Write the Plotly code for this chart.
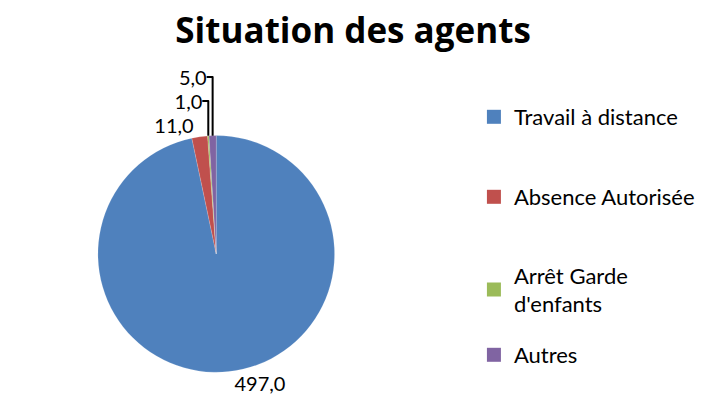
import plotly.graph_objects as go

categories = ["Travail à distance", "Absence Autorisée", "Arrêt Garde d'enfants", "Autres"]
legend_labels = ["Travail à distance", "Absence Autorisée", "Arrêt Garde<br>d'enfants", "Autres"]
values = [497.0, 11.0, 1.0, 5.0]
colors = ["#4F81BD", "#C0504D", "#9BBB59", "#8064A2"]

FONT = "Lato, 'Open Sans', sans-serif"
TITLE_FONT = "'Open Sans', Lato, sans-serif"
H = 403
legend_centers_px = [109, 189, 282, 347]

fig = go.Figure()
fig.add_trace(go.Pie(
    labels=categories,
    values=values,
    sort=False,
    direction="clockwise",
    rotation=0,
    marker=dict(colors=colors, line=dict(color="rgba(255,255,255,0.3)", width=0.5)),
    texttemplate="%{value:.1f}",
    textposition="outside",
    textfont=dict(family=FONT, size=20, color="#000000"),
    showlegend=False,
    domain=dict(x=[0.0, 0.56], y=[0.1, 0.8]),
    hoverinfo="label+value",
))

legend_layout = {}
for i, (lab, col) in enumerate(zip(legend_labels, colors)):
    lname = "legend" if i == 0 else f"legend{i + 1}"
    fig.add_trace(go.Scatter(
        x=[None], y=[None], mode="markers", name=lab,
        legend=lname,
        marker=dict(symbol="square", size=14, color=col),
    ))
    legend_layout[lname] = dict(
        x=0.64, y=1 - legend_centers_px[i] / H, xref="container", yref="container",
        xanchor="left", yanchor="middle",
        font=dict(family=FONT, size=22, color="#000000"),
        itemwidth=30, bgcolor="rgba(0,0,0,0)",
    )

fig.update_layout(
    width=728, height=H,
    separators=",.",
    paper_bgcolor="white", plot_bgcolor="white",
    margin=dict(l=10, r=10, t=60, b=5, autoexpand=False),
    title=dict(text="<b>Situation des agents</b>", x=0.474, xanchor="center", y=0.975, yanchor="top",
               font=dict(family=TITLE_FONT, size=35, color="#000000")),
    xaxis=dict(visible=False, domain=[0.6, 0.61]),
    yaxis=dict(visible=False),
    **legend_layout,
)

fig.write_html("out.html")
